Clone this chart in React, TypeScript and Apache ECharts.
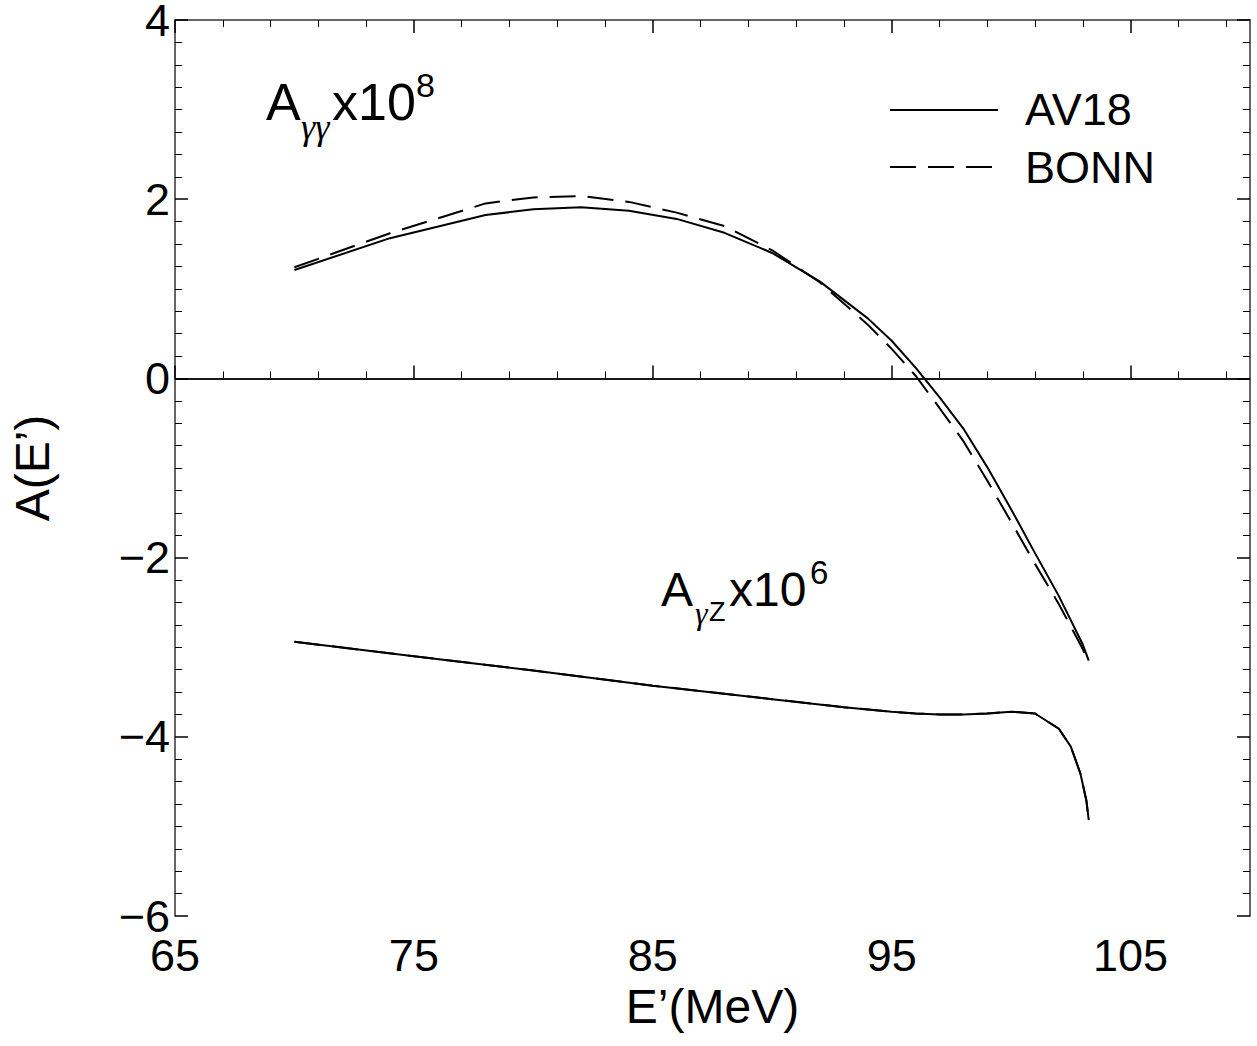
import React, { useEffect, useRef } from "react";
import * as echarts from "echarts";

// Axis tick positions
const xMajorTicks = [65, 75, 85, 95, 105];
const xMinorTicks = [67, 69, 71, 73, 77, 79, 81, 83, 87, 89, 91, 93, 97, 99, 101, 103, 107, 109];

// A_gamma-gamma x 10^8
const ggEnergies = [70, 74, 78, 80, 82, 84, 86, 88, 90, 92, 94, 95, 96, 97, 98, 99, 100, 101, 102, 103, 103.25];
const ggAV18 = [1.21, 1.565, 1.823, 1.887, 1.909, 1.871, 1.78, 1.625, 1.4, 1.08, 0.67, 0.42, 0.12, -0.21, -0.56, -0.99, -1.46, -1.95, -2.43, -2.97, -3.15];
const ggBONN = [1.24, 1.62, 1.953, 2.02, 2.035, 1.97, 1.85, 1.7, 1.43, 1.07, 0.6, 0.33, 0.03, -0.33, -0.7, -1.14, -1.6, -2.07, -2.52, -3.02, -3.18];

// A_gamma-Z x 10^6
const gzEnergies = [70, 75, 80, 85, 90, 93, 95, 96, 97, 98, 99, 100, 101, 102, 102.5, 102.9, 103.15, 103.25];
const gzAV18 = [-2.94, -3.1, -3.26, -3.43, -3.58, -3.67, -3.72, -3.74, -3.75, -3.75, -3.74, -3.72, -3.74, -3.91, -4.11, -4.41, -4.71, -4.93];
const gzBONN = [-2.94, -3.1, -3.26, -3.43, -3.58, -3.67, -3.72, -3.74, -3.75, -3.75, -3.74, -3.72, -3.74, -3.91, -4.11, -4.41, -4.71, -4.93];

const FONT = "'Liberation Sans', Arial, Helvetica, sans-serif";
const SERIF = "'Liberation Serif', 'Times New Roman', serif";

function zip(xs: number[], ys: number[]) {
  return xs.map((x, i) => [x, ys[i]]);
}

export default function App() {
  const ref = useRef<HTMLDivElement>(null);

  useEffect(() => {
    document.body.style.margin = "0";
    const chart = echarts.init(ref.current!, null, { renderer: "svg" });

    const axisLine = { show: true, lineStyle: { color: "#333", width: 1.5 } };
    const tickStyle = { color: "#000", width: 1.5 };

    const xBase = { type: "value", min: 65, max: 110, gridIndex: 0, splitLine: { show: false } };
    const yBase = { type: "value", min: -6, max: 4, interval: 2, splitLine: { show: false } };

    const option: any = {
      animation: false,
      backgroundColor: "#fff",
      grid: { left: 175, right: 7, top: 20, bottom: 130, containLabel: false, outerBoundsMode: "none" },
      xAxis: [
        {
          ...xBase,
          position: "bottom",
          axisLine,
          axisTick: { show: true, inside: true, length: 13, customValues: xMajorTicks, lineStyle: tickStyle },
          axisLabel: { show: true, customValues: xMajorTicks, fontSize: 45, fontFamily: FONT, color: "#000", margin: 17 },
          name: "E’(MeV)",
          nameLocation: "middle",
          nameGap: 66,
          nameTextStyle: { fontSize: 48, fontFamily: FONT, color: "#000" },
        },
        {
          ...xBase,
          position: "bottom",
          axisLine: { show: false },
          axisTick: { show: true, inside: true, length: 7, customValues: xMinorTicks, lineStyle: { color: "#000", width: 1 } },
          axisLabel: { show: false },
        },
        {
          ...xBase,
          position: "top",
          axisLine,
          axisTick: { show: true, inside: true, length: 13, customValues: xMajorTicks, lineStyle: tickStyle },
          axisLabel: { show: false },
        },
        {
          ...xBase,
          position: "top",
          axisLine: { show: false },
          axisTick: { show: true, inside: true, length: 7, customValues: xMinorTicks, lineStyle: { color: "#000", width: 1 } },
          axisLabel: { show: false },
        },
      ],
      yAxis: [
        {
          ...yBase,
          position: "left",
          axisLine,
          axisTick: { show: true, inside: true, length: 13, lineStyle: tickStyle },
          minorTick: { show: true, splitNumber: 8, length: 7, lineStyle: { color: "#000", width: 1 } },
          axisLabel: {
            show: true,
            fontSize: 45,
            lineHeight: 36,
            fontFamily: FONT,
            color: "#000",
            margin: 5,
            formatter: (v: number) => String(v).replace("-", "−"),
          },
          name: "A(E’)",
          nameLocation: "middle",
          nameGap: 119,
          nameTextStyle: { fontSize: 48, fontFamily: FONT, color: "#000" },
        },
        {
          ...yBase,
          position: "right",
          axisLine,
          axisTick: { show: true, inside: true, length: 13, lineStyle: tickStyle },
          minorTick: { show: true, splitNumber: 8, length: 7, lineStyle: { color: "#000", width: 1 } },
          axisLabel: { show: false },
        },
      ],
      series: [
        {
          name: "AV18",
          type: "line",
          xAxisIndex: 0,
          yAxisIndex: 0,
          data: zip(ggEnergies, ggAV18),
          symbol: "none",
          showSymbol: false,
          lineStyle: { color: "#000", width: 2 },
          markLine: {
            silent: true,
            symbol: ["none", "none"],
            label: { show: false },
            lineStyle: { color: "#000", width: 1.5, type: "solid" },
            data: [{ yAxis: 0 }],
          },
        },
        {
          name: "BONN",
          type: "line",
          xAxisIndex: 0,
          yAxisIndex: 0,
          data: zip(ggEnergies, ggBONN),
          symbol: "none",
          showSymbol: false,
          lineStyle: { color: "#000", width: 2, type: [26, 12] },
        },
        {
          name: "AV18 γZ",
          type: "line",
          xAxisIndex: 0,
          yAxisIndex: 0,
          data: zip(gzEnergies, gzAV18),
          symbol: "none",
          showSymbol: false,
          lineStyle: { color: "#000", width: 2 },
        },
        {
          name: "BONN γZ",
          type: "line",
          xAxisIndex: 0,
          yAxisIndex: 0,
          data: zip(gzEnergies, gzBONN),
          symbol: "none",
          showSymbol: false,
          lineStyle: { color: "#000", width: 2, type: [26, 12] },
        },
      ],
      graphic: [
        // A_gg x10^8
        { type: "text", x: 266, y: 102, style: { text: "A", font: `52px ${FONT}`, fill: "#000", textVerticalAlign: "middle" } },
        { type: "text", x: 301, y: 127, style: { text: "γγ", font: `italic 36px ${SERIF}`, fill: "#000", textVerticalAlign: "middle" } },
        { type: "text", x: 332, y: 102, style: { text: "x10", font: `52px ${FONT}`, fill: "#000", textVerticalAlign: "middle" } },
        { type: "text", x: 416, y: 85, style: { text: "8", font: `34px ${FONT}`, fill: "#000", textVerticalAlign: "middle" } },
        // A_gZ x10^6
        { type: "text", x: 661, y: 589, style: { text: "A", font: `48px ${FONT}`, fill: "#000", textVerticalAlign: "middle" } },
        { type: "text", x: 695, y: 613, style: { text: "γ", font: `italic 32px ${SERIF}`, fill: "#000", textVerticalAlign: "middle" } },
        { type: "text", x: 709, y: 612, style: { text: "Z", font: `27px ${FONT}`, fill: "#000", textVerticalAlign: "middle" } },
        { type: "text", x: 729, y: 589, style: { text: "x10", font: `48px ${FONT}`, fill: "#000", textVerticalAlign: "middle" } },
        { type: "text", x: 810, y: 572, style: { text: "6", font: `33px ${FONT}`, fill: "#000", textVerticalAlign: "middle" } },
        // Legend
        { type: "line", shape: { x1: 890, y1: 110, x2: 998, y2: 110 }, style: { stroke: "#000", lineWidth: 2 } },
        { type: "text", x: 1025, y: 109, style: { text: "AV18", font: `45px ${FONT}`, fill: "#000", textVerticalAlign: "middle" } },
        { type: "line", shape: { x1: 890, y1: 167, x2: 995, y2: 167 }, style: { stroke: "#000", lineWidth: 2, lineDash: [26, 12] } },
        { type: "text", x: 1025, y: 167, style: { text: "BONN", font: `45px ${FONT}`, fill: "#000", textVerticalAlign: "middle" } },
      ],
    };

    chart.setOption(option);
    return () => chart.dispose();
  }, []);

  return (
    <div
      ref={ref}
      style={{ position: "fixed", left: 0, top: 0, width: 1257, height: 1046, background: "#fff" }}
    />
  );
}
